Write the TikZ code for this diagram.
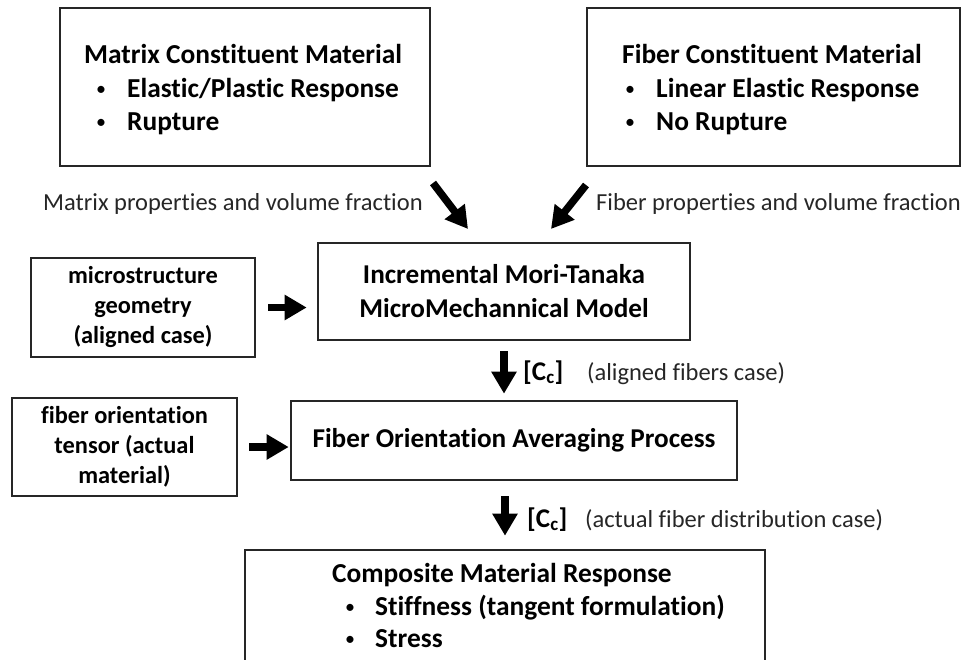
\documentclass[tikz,border=0pt]{standalone}
\usepackage{fontspec}
\setmainfont[Ligatures=NoCommon]{Carlito}
\usetikzlibrary{arrows.meta}
% small list bullet followed by a fixed indent
\newcommand{\listdot}[1]{\makebox[#1][l]{\raisebox{1.5pt}{\mdseries\fontsize{20}{20}\selectfont\textbullet}}}
\begin{document}
\begin{tikzpicture}[x=1pt,y=-1pt,
  box/.style={draw=black!85, line width=2.6pt, inner sep=0pt},
  bigtxt/.style={font=\fontsize{27.4}{33}\selectfont\bfseries},
  smalltxt/.style={font=\fontsize{24.4}{30}\selectfont\bfseries, align=center},
  midtxt/.style={font=\fontsize{27.2}{34}\selectfont\bfseries, align=center},
  lbl/.style={font=\fontsize{24.5}{30}\selectfont, text=black!85},
  ctxt/.style={font=\fontsize{27}{30}\selectfont\bfseries},
  line/.style={anchor=base west, inner sep=0pt},
  fat/.style={line width=7.5pt, draw=black, -{Triangle[length=22pt,width=24pt]}},
]
\clip (0,0) rectangle (966,659);

% constituent materials
\node[box, minimum width=370pt, minimum height=158pt] (matrix) at (245,87) {};
\node[line,bigtxt] (mtitle) at (84,63) {Matrix Constituent Material};
\node[line,bigtxt] (mb1) at (96,97) {\listdot{31pt}Elastic/Plastic Response};
\node[line,bigtxt] (mb2) at (96,130) {\listdot{31pt}Rupture};

\node[box, minimum width=373pt, minimum height=158pt] (fiber) at (773.5,87) {};
\node[line,bigtxt] (ftitle) at (622,63) {Fiber Constituent Material};
\node[line,bigtxt] (fb1) at (625,97) {\listdot{31pt}Linear Elastic Response};
\node[line,bigtxt] (fb2) at (625,130) {\listdot{31pt}No Rupture};

\node[line,lbl] (mlabel) at (43,210) {Matrix properties and volume fraction};
\node[line,lbl] (flabel) at (596,210) {Fiber properties and volume fraction};

% micromechanics
\node[box, minimum width=372pt, minimum height=97pt, midtxt] (mt) at (504,291.5)
  {Incremental Mori-Tanaka\\MicroMechannical Model};
\node[box, minimum width=224pt, minimum height=99pt, smalltxt] (micro) at (143,307.5)
  {microstructure\\geometry\\(aligned case)};

% orientation averaging
\node[box, minimum width=446pt, minimum height=79pt, midtxt] (avg) at (514,440.5)
  {Fiber Orientation Averaging Process};
\node[box, minimum width=225pt, minimum height=98pt, smalltxt] (tensor) at (124.5,447)
  {fiber orientation\\tensor (actual\\material)};

% composite response
\node[box, minimum width=520pt, minimum height=150pt] (comp) at (505,625) {};
\node[line,bigtxt] (ctitle) at (332,582) {Composite Material Response};
\node[line,bigtxt] (cb1) at (345,615) {\listdot{30pt}Stiffness (tangent formulation)};
\node[line,bigtxt] (cb2) at (345,647) {\listdot{30pt}Stress};

% stiffness labels
\node[line,ctxt] (c1) at (523,380) {[C\textsubscript{c}]};
\node[line,lbl] (c1txt) at (587,380) {(aligned fibers case)};
\node[line,ctxt] (c2) at (527,527) {[C\textsubscript{c}]};
\node[line,lbl] (c2txt) at (585,527) {(actual fiber distribution case)};

% arrows
\coordinate (ma1) at (433,183);
\coordinate (ma2) at (468,229);
\coordinate (fa1) at (586,185);
\coordinate (fa2) at (551,229);
\draw[fat] (ma1) -- (ma2);
\draw[fat] (fa1) -- (fa2);
\draw[fat] ([xshift=12pt]micro.east) -- ([xshift=-10pt]mt.west |- micro.east);
\draw[fat] ([xshift=11pt]tensor.east) -- ([xshift=-1pt]avg.west |- tensor.east);
\draw[fat] ([yshift=-10pt]mt.south) -- ([yshift=6pt]mt.south |- avg.north);
\draw[fat] ([yshift=-15pt]comp.north |- avg.south) -- ([yshift=13pt]comp.north);
\end{tikzpicture}
\end{document}
